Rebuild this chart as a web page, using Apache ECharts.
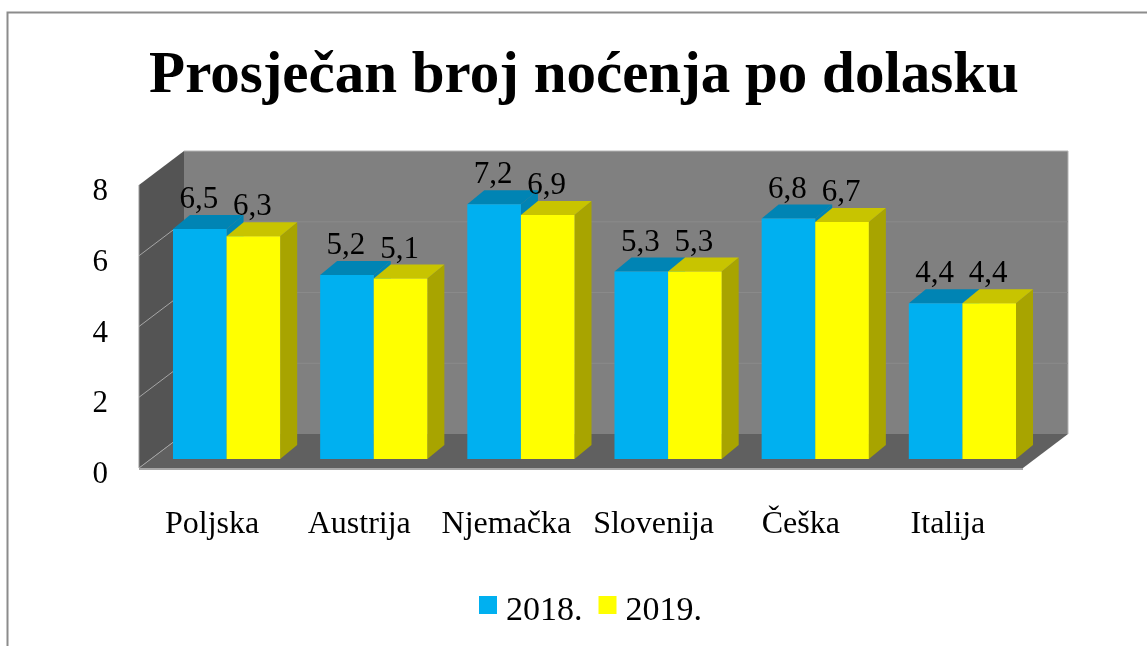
<!DOCTYPE html>
<html><head><meta charset="utf-8">
<style>html,body{margin:0;padding:0;background:#fff}#c{width:1147px;height:646px}</style>
<script src="https://cdn.jsdelivr.net/npm/echarts@6/dist/echarts.min.js"></script>
</head><body><div id="c"></div>
<script>
const categories = ['Poljska','Austrija','Njemačka','Slovenija','Češka','Italija'];
const values2018 = [6.5,5.2,7.2,5.3,6.8,4.4];
const values2019 = [6.3,5.1,6.9,5.3,6.7,4.4];
const yTicks = [0,2,4,6,8];
const FONT = '"Liberation Serif","Times New Roman",serif';
const BAR_W = 53.6, DX = 17, DY = 14;
const chart = echarts.init(document.getElementById('c'), null, {renderer:'canvas'});

function wallsItem(params, api) {
  const yAt = v => api.coord([0, v])[1];
  const fx0 = 139, bx0 = 184, bx1 = 1068, fx1 = 1023, fo = 9, bo = -25;
  const y0 = yAt(0), y8 = yAt(8);
  const poly = (points, fill) => ({type:'polygon', shape:{points}, style:{fill}});
  const children = [
    poly([[bx0,y8+bo],[bx1,y8+bo],[bx1,y0+bo],[bx0,y0+bo]], '#808080'),
    poly([[fx0,y8+fo],[bx0,y8+bo],[bx0,y0+bo],[fx0,y0+fo]], '#545454'),
    poly([[fx0,y0+fo],[bx0,y0+bo],[bx1,y0+bo],[fx1,y0+fo]], '#606060'),
    {type:'line', shape:{x1:fx0,y1:y0+fo+1,x2:fx1,y2:y0+fo+1}, style:{stroke:'#a8a8a8',lineWidth:2}},
    {type:'line', shape:{x1:bx0,y1:y8+bo,x2:bx1,y2:y8+bo}, style:{stroke:'#b4b4b4',lineWidth:1}},
    {type:'line', shape:{x1:bx1,y1:y8+bo,x2:bx1,y2:y0+bo}, style:{stroke:'#b4b4b4',lineWidth:1}},
    {type:'line', shape:{x1:fx0,y1:y8+fo,x2:fx0,y2:y0+fo}, style:{stroke:'#9a9a9a',lineWidth:1}}
  ];
  yTicks.forEach(v => {
    const y = yAt(v);
    if (v !== 8) children.push({type:'line', shape:{x1:fx0,y1:y+fo,x2:bx0,y2:y+bo}, style:{stroke:'#a6a6a6',lineWidth:1}});
    if (v !== 0 && v !== 8) children.push({type:'line', shape:{x1:bx0,y1:y+bo,x2:bx1,y2:y+bo}, style:{stroke:'#8a8a8a',lineWidth:1}});
  });
  return {type:'group', children};
}

function barItem(offsetSign, front, top, side) {
  return function(params, api) {
    const i = api.value(0), v = api.value(1);
    const [cx, yTop] = api.coord([i, v]);
    const yBase = api.coord([i, 0])[1];
    const x0 = offsetSign < 0 ? cx - BAR_W : cx;
    const x1 = x0 + BAR_W;
    const poly = (points, fill) => ({type:'polygon', shape:{points}, style:{fill}});
    return {type:'group', children:[
      poly([[x1,yTop],[x1+DX,yTop-DY],[x1+DX,yBase-DY],[x1,yBase]], side),
      poly([[x0,yTop],[x0+DX,yTop-DY],[x1+DX,yTop-DY],[x1,yTop]], top),
      {type:'rect', shape:{x:x0,y:yTop,width:BAR_W,height:yBase-yTop}, style:{fill:front}},
      {type:'text', z2:50, style:{
        text:String(v).replace('.',','), x:(x0+x1)/2-1, y:yTop-29,
        align:'center', verticalAlign:'middle', font:'31px '+FONT, fill:'#000'}}
    ]};
  };
}

chart.setOption({
  animation:false,
  backgroundColor:'#fff',
  title:{text:'Prosječan broj noćenja po dolasku', left:579, top:42, textAlign:'center',
    textStyle:{fontFamily:FONT,fontWeight:'bold',fontSize:59,color:'#000'}},
  legend:{left:479,top:594,padding:0,data:['2018.','2019.'],icon:'rect',itemWidth:18,itemHeight:18,itemGap:16,
    formatter:'{t|{name}}',
    textStyle:{fontFamily:FONT,fontSize:34,color:'#000',
      rich:{t:{fontFamily:FONT,fontSize:34,color:'#000',padding:[12,0,0,4]}}}},
  grid:{left:153,top:176,width:883,height:283},
  xAxis:{type:'category',data:categories,
    axisLine:{show:false},axisTick:{show:false},splitLine:{show:false},
    axisLabel:{interval:0,margin:50,fontFamily:FONT,fontSize:32,color:'#000',padding:[0,29,0,0]}},
  yAxis:{type:'value',min:0,max:8,interval:2,
    axisLine:{show:false},axisTick:{show:false},splitLine:{show:false},
    axisLabel:{margin:45,fontFamily:FONT,fontSize:31,color:'#000',verticalAlign:'top',lineHeight:32}},
  graphic:[{type:'polyline',silent:true,shape:{points:[[7.5,646],[7.5,12.5],[1147,12.5]]},
    style:{stroke:'#8c8c8c',lineWidth:2,fill:null}}],
  series:[
    {name:'walls',type:'custom',renderItem:wallsItem,data:[[0,0]],z:1,silent:true},
    {name:'2018.',type:'custom',z:2,itemStyle:{color:'#00B0F0'},
      renderItem:barItem(-1,'#00B0F0','#0084B4','#0084B4'),
      data:values2018.map((v,i)=>[i,v]),encode:{x:0,y:1}},
    {name:'2019.',type:'custom',z:3,itemStyle:{color:'#FFFF00'},
      renderItem:barItem(1,'#FFFF00','#C8C400','#A8A400'),
      data:values2019.map((v,i)=>[i,v]),encode:{x:0,y:1}}
  ]
});
</script></body></html>
